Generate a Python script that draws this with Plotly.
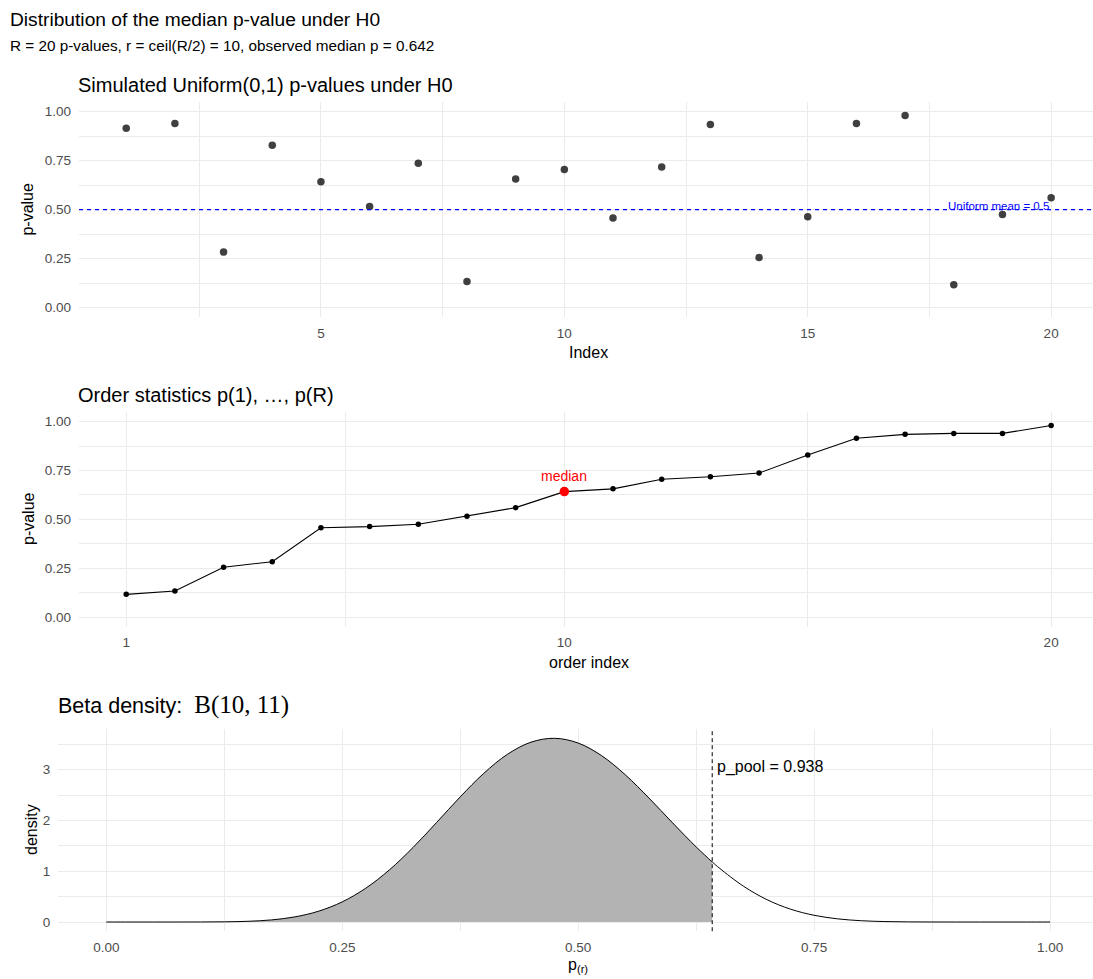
import plotly.graph_objects as go

W, H = 1093, 979

# ---------------- data ----------------
index = list(range(1, 21))
p_values = [0.915, 0.940, 0.283, 0.829, 0.642, 0.516, 0.737, 0.133, 0.656, 0.705,
            0.457, 0.718, 0.935, 0.255, 0.463, 0.940, 0.980, 0.116, 0.475, 0.560]
order_index = list(range(1, 21))
p_sorted = sorted(p_values)
r_median = 10
p_obs = 0.642
uniform_mean = 0.5
p_pool_label = "p_pool = 0.938"

beta_x = [0.0, 0.025, 0.05, 0.075, 0.1, 0.125, 0.15, 0.175, 0.2, 0.225, 0.25, 0.275,
          0.3, 0.325, 0.35, 0.375, 0.4, 0.425, 0.45, 0.475, 0.5, 0.525, 0.55, 0.575,
          0.6, 0.625, 0.642, 0.65, 0.675, 0.7, 0.725, 0.75, 0.775, 0.8, 0.825, 0.85,
          0.875, 0.9, 0.925, 0.95, 0.975, 1.0]
beta_density = [0.0, 0.0, 0.000002, 0.00006, 0.00065, 0.0036, 0.0140, 0.0415, 0.1016,
                0.2134, 0.3969, 0.6668, 1.0272, 1.4676, 1.9605, 2.4642, 2.9285, 3.3021,
                3.5411, 3.6177, 3.5239, 3.2732, 2.8973, 2.4406, 1.9525, 1.4786, 1.1837,
                1.0556, 0.7066, 0.4403, 0.2529, 0.1323, 0.0620, 0.0254, 0.0088, 0.0025,
                0.0005, 0.00007, 0.0, 0.0, 0.0, 0.0]

top_xticks = [5, 10, 15, 20]
mid_xticks = [1, 10, 20]
p_yticks = [0, 0.25, 0.5, 0.75, 1.0]
p_yticklabels = ["0.00", "0.25", "0.50", "0.75", "1.00"]
bot_xticks = [0, 0.25, 0.5, 0.75, 1.0]
bot_xticklabels = ["0.00", "0.25", "0.50", "0.75", "1.00"]
bot_yticks = [0, 1, 2, 3]

# ---------------- helpers ----------------
def px_x(px):
    return px / W

def px_y(py):
    return 1 - py / H

FONT = "Liberation Sans, Arial, sans-serif"
SERIF = "Liberation Serif, Times New Roman, serif"
GRID = "#EBEBEB"
TICKC = "#4D4D4D"

shade_x = [x for x in beta_x if x <= p_obs]
shade_y = [d for x, d in zip(beta_x, beta_density) if x <= p_obs]

fig = go.Figure()

# top: simulated p-values
fig.add_trace(go.Scatter(x=index, y=p_values, mode="markers",
                         marker=dict(size=7.5, color="rgba(0,0,0,0.75)"),
                         xaxis="x", yaxis="y", showlegend=False))

# middle: order statistics
fig.add_trace(go.Scatter(x=order_index, y=p_sorted, mode="lines+markers",
                         line=dict(color="black", width=1.1),
                         marker=dict(size=5.5, color="black"),
                         xaxis="x2", yaxis="y2", showlegend=False))
fig.add_trace(go.Scatter(x=[r_median], y=[p_sorted[r_median - 1]], mode="markers",
                         marker=dict(size=9.5, color="red"),
                         xaxis="x2", yaxis="y2", showlegend=False))

# bottom: beta density
fig.add_trace(go.Scatter(x=shade_x, y=shade_y, mode="lines", fill="tozeroy",
                         fillcolor="#B3B3B3", line=dict(width=0, shape="spline"),
                         xaxis="x3", yaxis="y3", showlegend=False))
fig.add_trace(go.Scatter(x=beta_x, y=beta_density, mode="lines",
                         line=dict(color="black", width=1, shape="spline"),
                         xaxis="x3", yaxis="y3", showlegend=False))

def xaxis_cfg(domain_left, rng, tickvals, ticktext, minor_vals, anchor):
    return dict(domain=[px_x(domain_left), 1], range=rng, tickvals=tickvals,
                ticktext=ticktext, showgrid=True, gridcolor=GRID, gridwidth=1.1,
                zeroline=False, showline=False, ticks="", anchor=anchor,
                tickfont=dict(family=FONT, size=13.5, color=TICKC),
                ticklabelstandoff=6,
                minor=dict(tickvals=minor_vals, showgrid=True, gridcolor=GRID,
                           gridwidth=0.6, ticks=""),
                automargin=False, fixedrange=True)

def yaxis_cfg(ptop, pbot, rng, tickvals, ticktext, minor_vals, anchor):
    return dict(domain=[px_y(pbot), px_y(ptop)], range=rng, tickvals=tickvals,
                ticktext=ticktext, showgrid=True, gridcolor=GRID, gridwidth=1.1,
                zeroline=False, showline=False, ticks="", anchor=anchor,
                tickfont=dict(family=FONT, size=13.5, color=TICKC),
                ticklabelstandoff=7,
                minor=dict(tickvals=minor_vals, showgrid=True, gridcolor=GRID,
                           gridwidth=0.6, ticks=""),
                automargin=False, fixedrange=True)

fig.update_layout(
    width=W, height=H,
    margin=dict(l=0, r=0, t=0, b=0),
    paper_bgcolor="white", plot_bgcolor="white",
    font=dict(family=FONT, color="black"),
    hovermode=False,
    xaxis=xaxis_cfg(79, [0.03, 20.86], top_xticks, [str(v) for v in top_xticks],
                    [2.5, 7.5, 12.5, 17.5], "y"),
    yaxis=yaxis_cfg(101.9, 317.3, [-0.05, 1.05], p_yticks, p_yticklabels,
                    [0.125, 0.375, 0.625, 0.875], "x"),
    xaxis2=xaxis_cfg(79, [0.03, 20.86], mid_xticks, [str(v) for v in mid_xticks],
                     [5.5, 15], "y2"),
    yaxis2=yaxis_cfg(411.9, 626.8, [-0.05, 1.05], p_yticks, p_yticklabels,
                     [0.125, 0.375, 0.625, 0.875], "x2"),
    xaxis3=xaxis_cfg(58.3, [-0.0509, 1.0455], bot_xticks, bot_xticklabels,
                     [0.125, 0.375, 0.625, 0.875], "y3"),
    yaxis3=yaxis_cfg(729.1, 931.2, [-0.1809, 3.7986], bot_yticks,
                     [str(v) for v in bot_yticks], [0.5, 1.5, 2.5, 3.5], "x3"),
)

# reference lines
fig.add_shape(type="line", xref="x domain", yref="y", x0=0, x1=1,
              y0=uniform_mean, y1=uniform_mean, layer="above",
              line=dict(color="#0000FF", width=1.1, dash="4px,4px"))
fig.add_shape(type="line", xref="x3", yref="y3 domain", x0=p_obs, x1=p_obs,
              y0=0, y1=1, layer="above",
              line=dict(color="black", width=1, dash="4px,3px"))

ann = []
def text_px(x, y, text, size, xanchor="left", yanchor="middle", color="black",
            angle=0, family=FONT):
    ann.append(dict(x=px_x(x), y=px_y(y), xref="paper", yref="paper", text=text,
                    showarrow=False, xanchor=xanchor, yanchor=yanchor,
                    textangle=angle, font=dict(family=family, size=size, color=color)))

# overall title and subtitle
text_px(8, 20, "Distribution of the median p-value under H0", 19.2)
text_px(8, 45.5, "R = 20 p-values, r = ceil(R/2) = 10, observed median p = 0.642", 15.3)

# subplot titles
text_px(76, 85, "Simulated Uniform(0,1) p-values under H0", 20)
text_px(76, 395, "Order statistics p(1), …, p(R)", 20)
text_px(56, 705, 'Beta density:  <span style="font-family:' + SERIF +
        ';font-size:25px">B(10, 11)</span>', 21.5)

# axis titles
text_px(28, 209.6, "p-value", 16, xanchor="center", angle=-90)
text_px(588.5, 352, "Index", 16, xanchor="center")
text_px(28, 519, "p-value", 16, xanchor="center", angle=-90)
text_px(588.5, 662, "order index", 16, xanchor="center")
text_px(31, 830, "density", 16, xanchor="center", angle=-90)
text_px(577.7, 965, "p<sub>(r)</sub>", 16, xanchor="center")

# data labels
ann.append(dict(x=20, y=uniform_mean, xref="x", yref="y", text="Uniform mean = 0.5",
                showarrow=False, xanchor="right", yanchor="bottom", yshift=-4,
                font=dict(family=FONT, size=11.5, color="#0000FF")))
ann.append(dict(x=r_median, y=p_sorted[r_median - 1], xref="x2", yref="y2",
                text="median", showarrow=False, xanchor="center", yanchor="bottom",
                yshift=6, font=dict(family=FONT, size=14, color="red")))
ann.append(dict(x=p_obs, y=3.05, xref="x3", yref="y3", text=p_pool_label,
                showarrow=False, xanchor="left", yanchor="middle", xshift=3,
                font=dict(family=FONT, size=16, color="black")))

fig.update_layout(annotations=ann)

fig.write_html("out.html", config={"displayModeBar": False},
               post_script="document.body.style.margin='0';"
                           "document.body.style.overflow='hidden';")
